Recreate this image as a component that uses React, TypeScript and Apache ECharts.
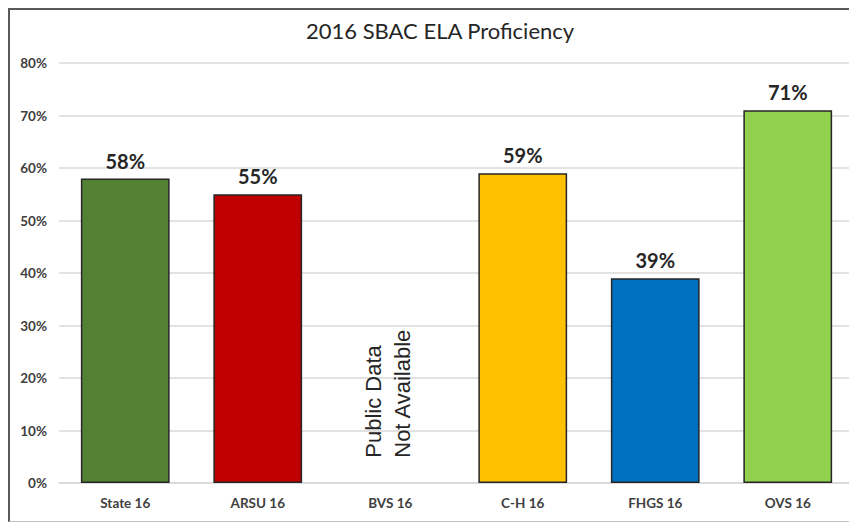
import React, { useEffect, useRef } from "react";
import * as echarts from "echarts";

const categories = ["State 16", "ARSU 16", "BVS 16", "C-H 16", "FHGS 16", "OVS 16"];
const values: (number | null)[] = [58, 55, null, 59, 39, 71];
const barColors = ["#548235", "#C00000", "#FFFFFF", "#FFC000", "#0070C0", "#92D050"];
const yTicks = { min: 0, max: 80, interval: 10 };
const chartTitle = "2016 SBAC ELA Proficiency";
const noteCategory = "BVS 16";
const noteText = "Public Data\nNot Available";

export default function App() {
  const ref = useRef<HTMLDivElement>(null);
  useEffect(() => {
    if (!ref.current) return;
    const chart = echarts.init(ref.current, undefined, { renderer: "svg" });
    const font = "Lato, 'Open Sans', sans-serif";
    chart.setOption({
      animation: false,
      title: {
        text: chartTitle,
        left: 291,
        top: 4,
        textStyle: { fontFamily: font, fontSize: 22, fontWeight: "normal", color: "#262626" },
      },
      grid: { left: 49, right: 3, top: 53, bottom: 38 },
      xAxis: {
        type: "category",
        data: categories,
        axisLine: { show: true, lineStyle: { color: "#D9D9D9", width: 1.5 } },
        axisTick: { show: false },
        axisLabel: { fontFamily: font, fontSize: 13.5, fontWeight: "bold", color: "#404040", margin: 13 },
      },
      yAxis: {
        type: "value",
        min: yTicks.min,
        max: yTicks.max,
        interval: yTicks.interval,
        axisLine: { show: false },
        axisTick: { show: false },
        splitLine: { lineStyle: { color: "#D9D9D9", width: 1.5 } },
        axisLabel: {
          fontFamily: font,
          fontSize: 13.5,
          fontWeight: "bold",
          color: "#404040",
          margin: 12,
          formatter: (v: number) => v + "%",
        },
      },
      series: [
        {
          type: "bar",
          barWidth: "67%",
          data: values.map((v, i) => ({
            value: v,
            itemStyle: { color: barColors[i], borderColor: "#262626", borderWidth: 1.5 },
          })),
          label: {
            show: true,
            position: "top",
            distance: 8,
            fontFamily: font,
            fontSize: 20,
            fontWeight: "bold",
            color: "#262626",
            formatter: (p: any) => (p.value == null ? "" : p.value + "%"),
          },
        },
      ],
    });
    const pt = chart.convertToPixel({ xAxisIndex: 0, yAxisIndex: 0 }, [noteCategory, 5]) as number[];
    chart.setOption({
      graphic: [
        {
          type: "text",
          x: pt[0] - 2,
          y: pt[1] + 1,
          rotation: Math.PI / 2,
          style: {
            text: noteText,
            fontFamily: "'Liberation Sans', Arial, sans-serif",
            fontSize: 22,
            lineHeight: 29,
            fill: "#262626",
            align: "left",
            verticalAlign: "middle",
          },
        },
      ],
    });
    return () => chart.dispose();
  }, []);
  return (
    <div
      style={{
        width: 849,
        height: 514,
        boxSizing: "border-box",
        borderLeft: "2px solid #595959",
        borderTop: "2px solid #595959",
        borderBottom: "1px solid #BFBFBF",
        background: "#fff",
      }}
    >
      <div ref={ref} style={{ width: 847, height: 511 }} />
    </div>
  );
}
